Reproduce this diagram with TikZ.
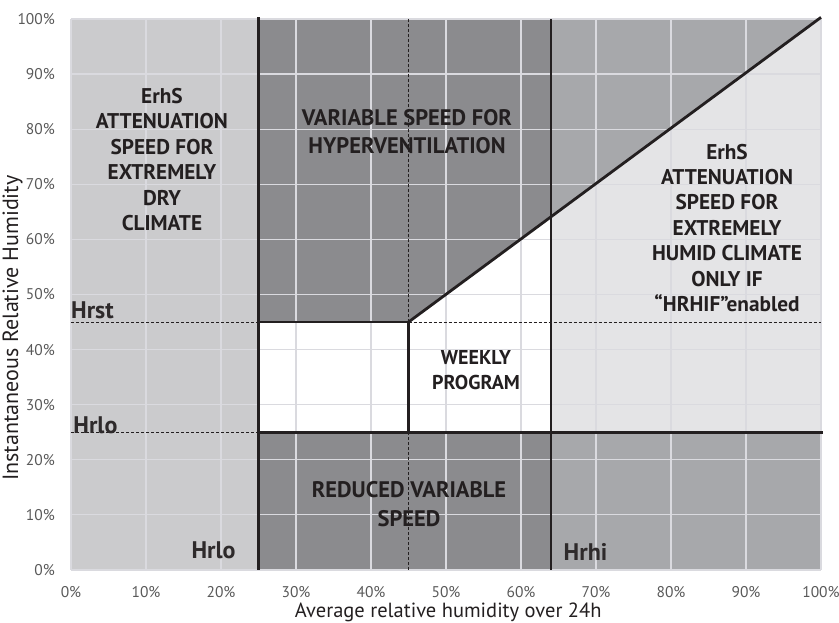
\documentclass[tikz,border=0pt]{standalone}
\usepackage{fontspec}
\setmainfont{PT Sans}
\definecolor{cleft}{HTML}{CBCBCD}
\definecolor{cdark}{HTML}{8B8B8E}
\definecolor{cmed}{HTML}{A7A8AB}
\definecolor{clight}{HTML}{E4E4E6}
\definecolor{cgrid}{HTML}{DADADF}
\definecolor{cink}{HTML}{231F20}
\definecolor{ctick}{HTML}{595959}
\tikzset{
  gridline/.style={cgrid, line width=1.2pt},
  thick line/.style={cink, line width=2.8pt},
  mid line/.style={cink, line width=2pt},
  dash line/.style={cink, line width=0.9pt, dash pattern=on 3pt off 2pt},
  zone/.style={font=\fontsize{21.3}{25.4}\selectfont\bfseries, text=cink, align=center, inner sep=0pt},
  hlabel/.style={font=\fontsize{24}{26}\selectfont\bfseries, text=cink!95!white, inner sep=0pt},
  ytick/.style={font=\fontsize{15.5}{17}\selectfont, text=ctick, anchor=east, inner sep=0pt},
  xtick/.style={font=\fontsize{15.5}{17}\selectfont, text=ctick, anchor=center, inner sep=0pt},
  axtitle/.style={font=\fontsize{20.5}{23}\selectfont, text=cink, inner sep=0pt}
}
\begin{document}
\begin{tikzpicture}[x=7.5pt, y=5.51pt]
\useasboundingbox (-71pt,-53pt) rectangle (768pt,570pt);
% fills
\fill[cleft] (0,0) rectangle (25,100);
\fill[cdark] (25,45) -- (45,45) -- (64,64) -- (64,100) -- (25,100) -- cycle;
\fill[white] (25,25) -- (64,25) -- (64,64) -- (45,45) -- (25,45) -- cycle;
\fill[cmed] (64,64) -- (100,100) -- (64,100) -- cycle;
\fill[clight] (64,25) -- (100,25) -- (100,100) -- (64,64) -- cycle;
\fill[cdark] (25,0) rectangle (64,25);
\fill[cmed] (64,0) rectangle (100,25);
% grid
\foreach \v in {0,10,...,100} {
  \draw[gridline] (\v,0) -- (\v,100);
  \draw[gridline] (0,\v) -- (100,\v);
}
% named coordinates
\coordinate (hst0) at (0,45);
\coordinate (hst1) at (25,45);
\coordinate (hst2) at (45,45);
\coordinate (hst3) at (100,45);
\coordinate (hlo0) at (0,25);
\coordinate (hlo1) at (25,25);
\coordinate (hlo3) at (100.2,25);
\coordinate (v45b) at (45,0);
\coordinate (v45m) at (45,25);
\coordinate (v45t) at (45,100);
\coordinate (v25b) at (25,0);
\coordinate (v25t) at (25,100.4);
\coordinate (v64b) at (64,0);
\coordinate (v64t) at (64,100);
\coordinate (diagend) at (100,100.3);
% dashed
\draw[dash line] (hst0) -- (hst1);
\draw[dash line] (hst2) -- (hst3);
\draw[dash line] (hlo0) -- (hlo1);
\draw[dash line] (v45b) -- (v45m);
\draw[dash line] (hst2) -- (v45t);
% solid
\draw[thick line] (v25b) -- (v25t);
\draw[mid line] (v64b) -- (v64t);
\draw[thick line] (hlo1) -- (hlo3);
\draw[thick line, line cap=round] (hst1) -- (hst2) -- (v45m);
\draw[thick line] (hst2) -- (diagend);
% zone labels
\node[zone] (dry) at (12.13,74.5) {ErhS\\ATTENUATION\\SPEED FOR\\EXTREMELY\\DRY\\CLIMATE};
\node[zone] (humid) at (87.47,62.1) {ErhS\\ATTENUATION\\SPEED FOR\\EXTREMELY\\HUMID CLIMATE\\ONLY IF\\“HRHIF”enabled};
\node[zone, font=\fontsize{22.5}{28}\selectfont\bfseries] (hyper) at (44.8,79.5) {VARIABLE SPEED FOR\\HYPERVENTILATION};
\node[zone, font=\fontsize{22.5}{29}\selectfont\bfseries] (reduced) at (45.07,11.9) {REDUCED VARIABLE\\SPEED};
\node[zone, font=\fontsize{20}{25}\selectfont\bfseries] (weekly) at (54,36.2) {WEEKLY\\PROGRAM};
% threshold labels
\node[hlabel, anchor=west] (hrst) at (0,47.2) {Hrst};
\node[hlabel, anchor=west] (hrlo1) at (0.3,26.3) {Hrlo};
\node[hlabel] (hrlo2) at (19,3.63) {Hrlo};
\node[hlabel] (hrhi) at (68.6,3.27) {Hrhi};
% ticks
\foreach \v in {0,10,...,100} {
  \node[ytick] (yt\v) at (-2.13,\v) {\v\%};
  \node[xtick] (xt\v) at (\v,-4) {\v\%};
}
\node[axtitle] (xtitle) at (50.3,-7.62) {Average relative humidity over 24h};
\node[axtitle, rotate=90, font=\fontsize{22}{24}\selectfont] (ytitle) at (-7.8,43.9) {Instantaneous Relative Humidity};
\end{tikzpicture}
\end{document}
